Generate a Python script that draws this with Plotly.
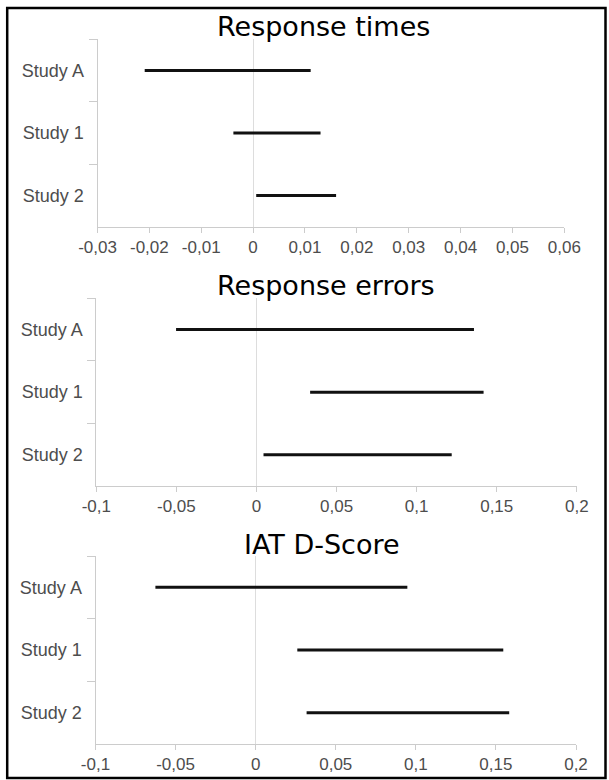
import plotly.graph_objects as go

# ---------------- data ----------------
studies = ["Study A", "Study 1", "Study 2"]

rt_low = [-0.0209, -0.0038, 0.0006]
rt_high = [0.0111, 0.0130, 0.0160]

err_low = [-0.0502, 0.0335, 0.0044]
err_high = [0.1358, 0.1418, 0.1219]

d_low = [-0.0626, 0.0260, 0.0318]
d_high = [0.0947, 0.1546, 0.1583]

titles = ["Response times", "Response errors", "IAT D-Score"]

rt_tickvals = [-0.03, -0.02, -0.01, 0, 0.01, 0.02, 0.03, 0.04, 0.05, 0.06]
rt_ticktext = ["-0,03", "-0,02", "-0,01", "0", "0,01", "0,02", "0,03", "0,04", "0,05", "0,06"]
wide_tickvals = [-0.1, -0.05, 0, 0.05, 0.1, 0.15, 0.2]
wide_ticktext = ["-0,1", "-0,05", "0", "0,05", "0,1", "0,15", "0,2"]

# ---------------- layout geometry (pixels) ----------------
W, H = 609, 780
panels = [
    dict(low=rt_low, high=rt_high, rng=[-0.03, 0.06], tv=rt_tickvals, tt=rt_ticktext,
         left=97.5, right=564.3, top=39.3, bottom=226.7, tx=323, ty=27),
    dict(low=err_low, high=err_high, rng=[-0.1, 0.2], tv=wide_tickvals, tt=wide_ticktext,
         left=96.3, right=576.8, top=298.3, bottom=486, tx=325.7, ty=285),
    dict(low=d_low, high=d_high, rng=[-0.1, 0.2], tv=wide_tickvals, tt=wide_ticktext,
         left=95.5, right=576, top=556, bottom=744, tx=322.4, ty=544),
]

AX = "#cccccc"
TXT = "#4d4d4d"
TICKFONT = dict(family="Liberation Sans, Arial, sans-serif", size=17, color=TXT)
CATFONT = dict(family="Liberation Sans, Arial, sans-serif", size=18, color=TXT)

fig = go.Figure()
layout = dict(
    template="none",
    width=W, height=H,
    margin=dict(l=0, r=0, t=0, b=0, pad=0),
    paper_bgcolor="white", plot_bgcolor="white",
    showlegend=False,
    annotations=[], shapes=[],
)

for i, p in enumerate(panels):
    n = i + 1
    xname = "x" if n == 1 else f"x{n}"
    yname = "y" if n == 1 else f"y{n}"
    xkey = "xaxis" if n == 1 else f"xaxis{n}"
    ykey = "yaxis" if n == 1 else f"yaxis{n}"
    over_n = n + 3
    over_key = f"yaxis{over_n}"

    for j, s in enumerate(studies):
        fig.add_trace(go.Scatter(
            x=[p["low"][j], p["high"][j]], y=[s, s],
            mode="lines", line=dict(color="#111111", width=3),
            xaxis=xname, yaxis=yname, hoverinfo="skip",
        ))

    xd = [p["left"] / W, p["right"] / W]
    yd = [1 - p["bottom"] / H, 1 - p["top"] / H]

    layout[xkey] = dict(
        domain=xd, anchor=yname, range=p["rng"], automargin=False,
        tickmode="array", tickvals=p["tv"], ticktext=p["tt"],
        showgrid=False, showline=True, linecolor=AX, linewidth=1,
        ticks="outside", ticklen=5, tickcolor=AX, tickwidth=1,
        zeroline=True, zerolinecolor="#dddddd", zerolinewidth=1,
        tickfont=TICKFONT, fixedrange=True,
    )
    layout[ykey] = dict(
        domain=yd, anchor=xname, type="category", automargin=False,
        categoryorder="array", categoryarray=studies, range=[2.5, -0.5],
        showgrid=False, showline=True, linecolor=AX, linewidth=1,
        ticks="outside", ticklen=8, tickcolor=AX, tickwidth=1,
        tickson="boundaries", tickfont=CATFONT, ticklabelstandoff=9,
        zeroline=False, fixedrange=True,
    )
    # axis crossing at x = 0 (vertical line with boundary ticks)
    zero_pos = xd[0] + (0 - p["rng"][0]) / (p["rng"][1] - p["rng"][0]) * (xd[1] - xd[0])
    layout[over_key] = dict(
        overlaying=yname, anchor="free", position=zero_pos, side="left", automargin=False,
        type="category", categoryorder="array", categoryarray=studies, range=[2.5, -0.5],
        showgrid=False, showline=True, linecolor="#dddddd", linewidth=1,
        ticks="outside", ticklen=8, tickcolor="#dddddd", tickwidth=1,
        tickson="boundaries", showticklabels=False, zeroline=False, fixedrange=True,
    )

    layout["annotations"].append(dict(
        text=titles[i], x=p["tx"] / W, y=1 - p["ty"] / H,
        xref="paper", yref="paper", xanchor="center", yanchor="middle",
        showarrow=False,
        font=dict(family="DejaVu Sans, sans-serif", size=27, color="#000000"),
    ))

# outer frame
layout["shapes"].append(dict(
    type="rect", xref="paper", yref="paper",
    x0=7.2 / W, x1=605.5 / W, y0=1 - 778 / H, y1=1 - 8 / H,
    line=dict(color="#000000", width=2.5), fillcolor="rgba(0,0,0,0)", layer="above",
))

fig.update_layout(**layout)
fig.write_html(
    "out.html",
    config={"displayModeBar": False},
    post_script="document.body.style.margin='0';document.body.style.overflow='hidden';",
)
